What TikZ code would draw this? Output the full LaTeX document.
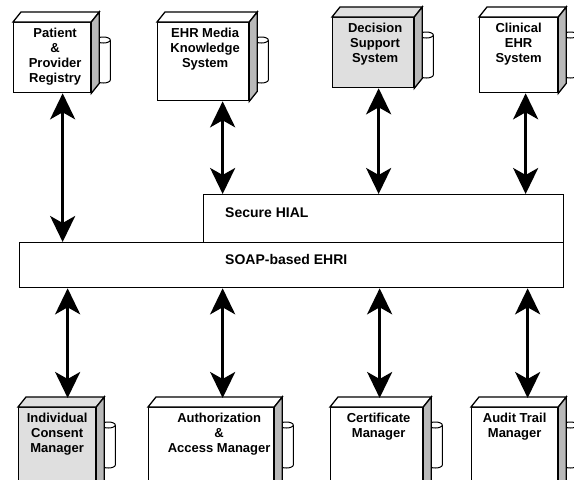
\documentclass[tikz,border=0pt]{standalone}
\usepackage{fontspec}
\setmainfont{Liberation Sans}
\usetikzlibrary{positioning, arrows.meta, backgrounds, calc}

\tikzset{
  unitbox/.style={draw, line width=1.3pt, fill=white, anchor=north west, inner sep=0pt},
  unittext/.style={anchor=north, inner sep=0pt, align=center, yshift=-6pt,
                   font=\fontsize{13}{15}\selectfont\bfseries},
  busbox/.style={draw, line width=1.3pt, fill=white, anchor=north west, inner sep=0pt},
  buslabel/.style={anchor=west, inner sep=0pt, font=\fontsize{14}{16}\selectfont\bfseries},
  biarrow/.style={{Stealth[length=26pt, width=25pt, inset=7pt]}-{Stealth[length=26pt, width=25pt, inset=7pt]},
                  line width=3pt},
}

\begin{document}
\begin{tikzpicture}[x=1pt, y=-1pt]
  \useasboundingbox (0,0) rectangle (574,480);
  \clip (0,0) rectangle (574,480);

  % buses
  \node[busbox, minimum width=360pt, minimum height=48pt] (hial) at (203,194) {};
  \node[busbox, minimum width=544pt, minimum height=45pt] (soap) at (19,242) {};
  \node[buslabel] (hial-txt) at ([xshift=22pt, yshift=6pt]hial.west) {Secure HIAL};
  \node[buslabel] (soap-txt) at ([yshift=6pt]hial-txt.west |- soap.west) {SOAP-based EHRI};

  % upper units (front faces)
  \node[unitbox, minimum width=77pt, minimum height=70pt] (patient) at (13,22) {};
  \node[unitbox, minimum width=91pt, minimum height=78pt] (media) at (157,22) {};
  \node[unitbox, minimum width=81pt, minimum height=70pt, fill=gray!25] (decision) at (332,17) {};
  \node[unitbox, minimum width=78pt, minimum height=75pt] (clinical) at (479,17) {};

  % lower units
  \node[unitbox, minimum width=77pt, minimum height=85pt, fill=gray!25] (consent) at (18,407) {};
  \node[unitbox, minimum width=125pt, minimum height=85pt] (authz) at (148,407) {};
  \node[unitbox, minimum width=92pt, minimum height=85pt] (cert) at (330,407) {};
  \node[unitbox, minimum width=86pt, minimum height=85pt] (audit) at (471,407) {};

  % top and side faces
  \foreach \n/\f in {patient/white, media/white, decision/gray!25, clinical/white,
                     consent/gray!25, authz/white, cert/white, audit/white} {
    \draw[line width=1.3pt, fill=\f] (\n.north west) -- ++(8,-10)
      -- ([shift={(8,-10)}]\n.north east) -- (\n.north east) -- cycle;
    \draw[line width=1.3pt, fill=gray!55] (\n.north east) -- ++(8,-10)
      -- ([shift={(8,-10)}]\n.south east) -- (\n.south east) -- cycle;
  }

  % data stores behind the units
  \begin{scope}[on background layer]
    \foreach \n in {patient, media, decision, clinical, consent, authz, cert, audit} {
      \draw[line width=1pt, fill=white] ([shift={(5,18)}]\n.north east)
        -- ([shift={(5,58)}]\n.north east)
        arc[start angle=180, end angle=0, x radius=7, y radius=3]
        -- ([shift={(19,18)}]\n.north east);
      \draw[line width=1pt, fill=white] ([shift={(12,18)}]\n.north east)
        ellipse[x radius=7, y radius=3];
    }
  \end{scope}

  % labels
  \node[unittext] (patient-txt) at ([xshift=3pt]patient.north) {Patient\\\&\\Provider\\Registry};
  \node[unittext] (media-txt) at ([xshift=2pt]media.north) {EHR Media\\Knowledge\\System};
  \node[unittext] (decision-txt) at ([xshift=2pt]decision.north) {Decision\\Support\\System};
  \node[unittext] (clinical-txt) at (clinical.north) {Clinical\\EHR\\System};
  \node[unittext] (consent-txt) at (consent.north) {Individual\\Consent\\Manager};
  \node[unittext] (authz-txt) at ([xshift=8pt]authz.north) {Authorization\\\&\\Access Manager};
  \node[unittext] (cert-txt) at ([xshift=2pt]cert.north) {Certificate\\Manager};
  \node[unittext] (audit-txt) at (audit.north) {Audit Trail\\Manager};

  % connections
  \foreach \n/\t/\dx in {patient/soap/10.5, media/hial/19.5, decision/hial/5.5, clinical/hial/7} {
    \coordinate (from) at ([xshift=\dx pt]\n.south);
    \draw[biarrow] (from) -- (from |- \t.north);
  }
  \foreach \n/\dx in {consent/10.5, authz/11.5, cert/3, audit/13} {
    \coordinate (to) at ([xshift=\dx pt, yshift=9pt]\n.north);
    \draw[biarrow] (to |- soap.south) -- (to);
  }
\end{tikzpicture}
\end{document}
